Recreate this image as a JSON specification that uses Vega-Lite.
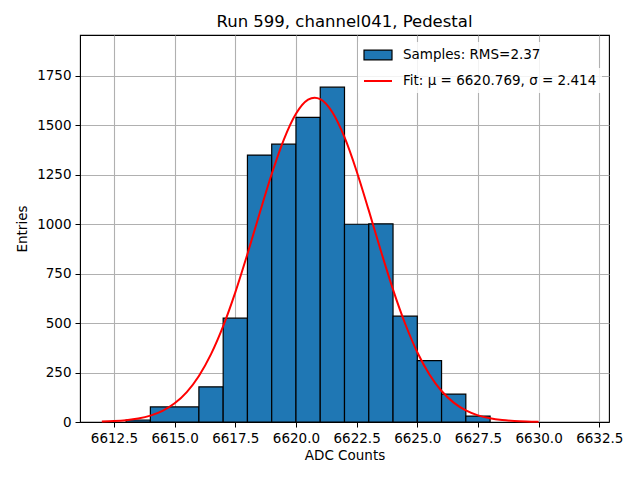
{
  "$schema": "https://vega.github.io/schema/vega-lite/v6.json",
  "autosize": "none",
  "width": 529,
  "height": 387,
  "padding": {"left": 80, "top": 35, "right": 31, "bottom": 58},
  "background": "white",
  "title": {"text": "Run 599, channel041, Pedestal", "fontSize": 16.5, "fontWeight": "normal", "color": "black", "offset": 5},
  "config": {
    "font": "DejaVu Sans",
    "view": {"stroke": "black", "strokeWidth": 1.1},
    "axis": {
      "labelFontSize": 13.5,
      "titleFontSize": 13.5,
      "labelColor": "black",
      "titleColor": "black",
      "titleFontWeight": "normal",
      "domainColor": "black",
      "tickColor": "black",
      "tickSize": 5,
      "labelPadding": 4,
      "gridColor": "#b0b0b0",
      "gridWidth": 1.1,
      "zindex": 1
    },
    "legend": {
      "title": null,
      "orient": "top-right",
      "offset": 7,
      "padding": 5,
      "fillColor": "rgba(255,255,255,0.85)",
      "labelFontSize": 13.5,
      "labelColor": "black",
      "labelLimit": 400,
      "labelOffset": 24,
      "symbolSize": 196,
      "symbolOpacity": 1,
      "layout": {"top-right": {"direction": "vertical", "anchor": "start", "margin": 0}}
    }
  },
  "datasets": {
    "bins": [
      {"lo": 6613, "hi": 6614, "n": 10},
      {"lo": 6614, "hi": 6616, "n": 76},
      {"lo": 6616, "hi": 6617, "n": 178},
      {"lo": 6617, "hi": 6618, "n": 525},
      {"lo": 6618, "hi": 6619, "n": 1350},
      {"lo": 6619, "hi": 6620, "n": 1405},
      {"lo": 6620, "hi": 6621, "n": 1540},
      {"lo": 6621, "hi": 6622, "n": 1693},
      {"lo": 6622, "hi": 6623, "n": 1000},
      {"lo": 6623, "hi": 6624, "n": 1002},
      {"lo": 6624, "hi": 6625, "n": 535},
      {"lo": 6625, "hi": 6626, "n": 310},
      {"lo": 6626, "hi": 6627, "n": 141},
      {"lo": 6627, "hi": 6628, "n": 30}
    ],
    "fit": [
      {"adc": 6612.0, "y": 2.2},
      {"adc": 6612.5, "y": 4.6},
      {"adc": 6613.0, "y": 9.2},
      {"adc": 6613.5, "y": 17.6},
      {"adc": 6614.0, "y": 32.2},
      {"adc": 6614.5, "y": 56.3},
      {"adc": 6615.0, "y": 94.4},
      {"adc": 6615.5, "y": 151.5},
      {"adc": 6616.0, "y": 233.0},
      {"adc": 6616.5, "y": 343.3},
      {"adc": 6617.0, "y": 484.8},
      {"adc": 6617.5, "y": 655.6},
      {"adc": 6618.0, "y": 849.4},
      {"adc": 6618.5, "y": 1054.4},
      {"adc": 6619.0, "y": 1253.8},
      {"adc": 6619.5, "y": 1428.4},
      {"adc": 6620.0, "y": 1558.9},
      {"adc": 6620.5, "y": 1629.8},
      {"adc": 6620.769, "y": 1640.0},
      {"adc": 6621.0, "y": 1632.5},
      {"adc": 6621.5, "y": 1566.5},
      {"adc": 6622.0, "y": 1440.0},
      {"adc": 6622.5, "y": 1268.2},
      {"adc": 6623.0, "y": 1070.0},
      {"adc": 6623.5, "y": 864.8},
      {"adc": 6624.0, "y": 669.7},
      {"adc": 6624.5, "y": 496.8},
      {"adc": 6625.0, "y": 353.0},
      {"adc": 6625.5, "y": 240.3},
      {"adc": 6626.0, "y": 156.7},
      {"adc": 6626.5, "y": 97.9},
      {"adc": 6627.0, "y": 58.6},
      {"adc": 6627.5, "y": 33.6},
      {"adc": 6628.0, "y": 18.5},
      {"adc": 6628.5, "y": 9.7},
      {"adc": 6629.0, "y": 4.9},
      {"adc": 6629.5, "y": 2.4},
      {"adc": 6630.0, "y": 1.1}
    ]
  },
  "resolve": {"scale": {"fill": "independent", "stroke": "independent"}, "legend": {"fill": "independent", "stroke": "independent"}},
  "layer": [
    {
      "data": {"name": "bins"},
      "mark": {"type": "bar", "stroke": "black", "strokeWidth": 1.2},
      "encoding": {
        "x": {
          "field": "lo",
          "type": "quantitative",
          "scale": {"domain": [6611.1, 6632.9], "nice": false, "zero": false},
          "axis": {"title": "ADC Counts", "values": [6612.5, 6615, 6617.5, 6620, 6622.5, 6625, 6627.5, 6630, 6632.5], "format": ".1f", "titlePadding": 4}
        },
        "x2": {"field": "hi"},
        "y": {
          "field": "n",
          "type": "quantitative",
          "scale": {"domain": [0, 1957], "nice": false},
          "axis": {"title": "Entries", "values": [0, 250, 500, 750, 1000, 1250, 1500, 1750], "format": "d", "titlePadding": 7}
        },
        "y2": {"datum": 0},
        "fill": {
          "datum": "Samples: RMS=2.37",
          "scale": {"range": ["#1f77b4"]},
          "legend": {
            "symbolType": "M-1,-0.7L3,-0.7L3,0.7L-1,0.7Z",
            "symbolStrokeColor": "black",
            "symbolStrokeWidth": 1.2,
            "labelExpr": "datum.label + '\u00a0\u00a0\u00a0\u00a0\u00a0\u00a0\u00a0\u00a0\u00a0\u00a0\u00a0\u00a0'"
          }
        }
      }
    },
    {
      "data": {"name": "fit"},
      "mark": {"type": "line", "strokeWidth": 2, "interpolate": "monotone"},
      "encoding": {
        "x": {"field": "adc", "type": "quantitative"},
        "y": {"field": "y", "type": "quantitative"},
        "stroke": {
          "datum": "Fit: μ = 6620.769, σ = 2.414",
          "scale": {"range": ["#ff0000"]},
          "legend": {
            "symbolType": "M-1,0L3,0",
            "symbolStrokeWidth": 2
          }
        }
      }
    }
  ]
}
